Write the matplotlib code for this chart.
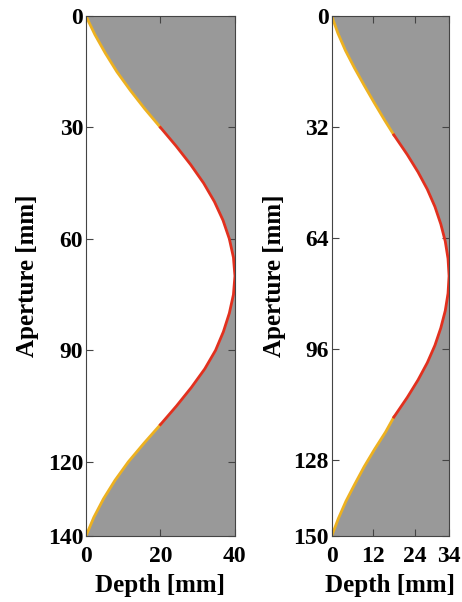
import matplotlib.pyplot as plt
import numpy as np

plt.rcParams['font.family'] = ['Liberation Serif', 'DejaVu Serif']
plt.rcParams['font.weight'] = 'bold'

# left profile (aperture mm, depth mm)
ap_l_top = [0, 5, 10, 15, 20, 25, 30]
dp_l_top = [0, 2.4, 5.2, 8.3, 11.9, 15.8, 20]
ap_l_mid = [30, 35, 40, 45, 50, 55, 60, 65, 70, 75, 80, 85, 90, 95, 100, 105, 110]
dp_l_mid = [20, 24.2, 28.1, 31.6, 34.5, 36.8, 38.5, 39.6, 40, 39.6, 38.5, 36.9, 34.8, 31.9, 28.3, 24.3, 20]
ap_l_bot = [110, 115, 120, 125, 130, 135, 140]
dp_l_bot = [20, 15.6, 11.4, 7.8, 4.7, 2.1, 0]

# right profile
ap_r_top = [0, 5, 10, 15, 20, 25, 30, 34.3]
dp_r_top = [0, 1.8, 4.0, 6.6, 9.4, 12.3, 15.3, 18]
ap_r_mid = [34.3, 40, 45, 50, 55, 60, 65, 70, 75, 80, 85, 90, 95, 100, 105, 110, 115.7]
dp_r_mid = [18, 21.9, 25.0, 27.7, 29.9, 31.6, 32.9, 33.7, 34, 33.7, 32.9, 31.6, 29.9, 27.7, 25.0, 21.9, 18]
ap_r_bot = [115.7, 120, 125, 130, 135, 140, 145, 150]
dp_r_bot = [18, 15.6, 12.4, 9.4, 6.7, 4.1, 1.9, 0]

panels = [
    dict(top=(ap_l_top, dp_l_top), mid=(ap_l_mid, dp_l_mid), bot=(ap_l_bot, dp_l_bot),
         xmax=40, ymax=140, xticks=[0, 20, 40], yticks=[0, 30, 60, 90, 120, 140],
         pos=[0.186, 0.1096, 0.3225, 0.8638], ylpad=6),
    dict(top=(ap_r_top, dp_r_top), mid=(ap_r_mid, dp_r_mid), bot=(ap_r_bot, dp_r_bot),
         xmax=34, ymax=150, xticks=[0, 12, 24, 34], yticks=[0, 32, 64, 96, 128, 150],
         pos=[0.718, 0.1096, 0.254, 0.8638], ylpad=5),
]

yellow = '#EDB120'
red = '#E2301E'
gray = '#999999'

fig = plt.figure(figsize=(4.62, 6.02), dpi=100)

for p in panels:
    ax = fig.add_axes(p['pos'])
    ap = np.concatenate([p['top'][0], p['mid'][0][1:], p['bot'][0][1:]])
    dp = np.concatenate([p['top'][1], p['mid'][1][1:], p['bot'][1][1:]])
    ax.fill_betweenx(ap, dp, p['xmax'], color=gray, lw=0)
    ax.plot(p['top'][1], p['top'][0], color=yellow, lw=2, solid_joinstyle='round')
    ax.plot(p['bot'][1], p['bot'][0], color=yellow, lw=2, solid_joinstyle='round')
    ax.plot(p['mid'][1], p['mid'][0], color=red, lw=2, solid_joinstyle='round')
    ax.set_xlim(0, p['xmax'])
    ax.set_ylim(p['ymax'], 0)
    ax.set_xticks(p['xticks'])
    ax.set_yticks(p['yticks'])
    ax.tick_params(direction='in', top=True, right=True, length=5, width=0.8,
                   color='#444444', labelsize=17, pad=2)
    ax.tick_params(axis='x', pad=7)
    for lab in ax.get_xticklabels() + ax.get_yticklabels():
        lab.set_fontweight('bold')
    for s in ax.spines.values():
        s.set_color('#444444')
        s.set_linewidth(0.8)
    ax.set_xlabel('Depth [mm]', fontsize=18, fontweight='bold', labelpad=5)
    ax.set_ylabel('Aperture [mm]', fontsize=18, fontweight='bold', labelpad=p['ylpad'])

fig.savefig('out.png', dpi=100)
